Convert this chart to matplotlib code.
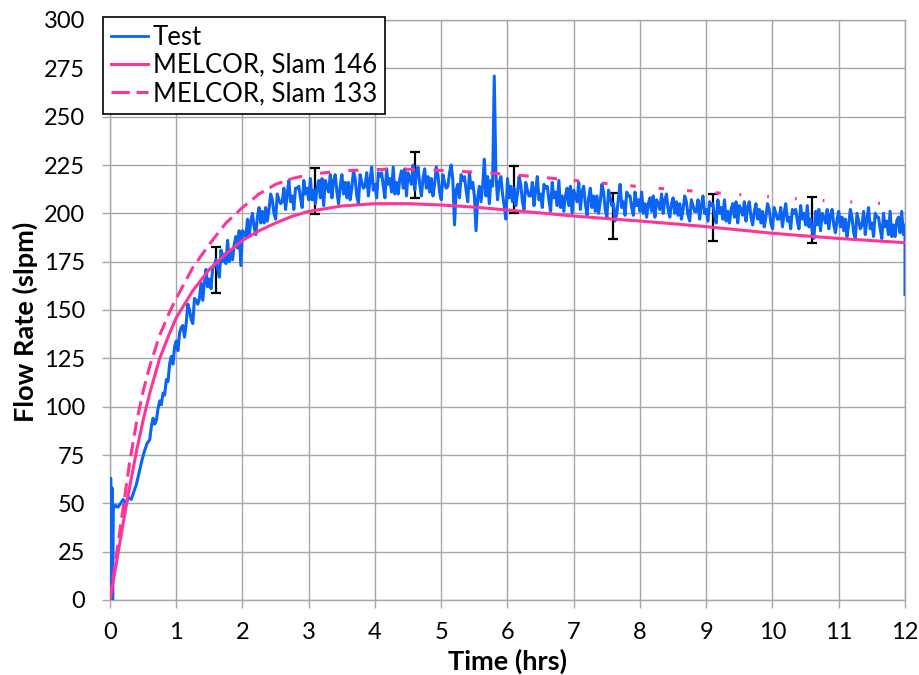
import numpy as np
import matplotlib
matplotlib.use("Agg")
import matplotlib.pyplot as plt
from matplotlib.lines import Line2D

# ---------------- data ----------------
# Test measurement: start-up transient (irregular sampling)
test_t_early = [0.00, 0.01, 0.02, 0.03, 0.04, 0.05, 0.08, 0.12, 0.16, 0.20,
                0.24, 0.28, 0.32, 0.36, 0.40, 0.44, 0.48, 0.52, 0.56]
test_flow_early = [0, 63, 5, 58, 0, 47, 49, 48, 50, 52,
                   50, 53, 52, 56, 60, 66, 72, 77, 81]

# Test measurement: 0.600 h to 12.000 h, every 0.025 h (one row = 0.25 h)
test_t0 = 0.600
test_dt = 0.025
test_flow = [
    83, 90, 94, 91, 93, 99, 103, 101, 107, 106,            # 0.600
    114, 113, 122, 126, 122, 131, 134, 129, 138, 141,      # 0.850
    142, 136, 143, 153, 150, 145, 143, 156, 155, 153,      # 1.100
    156, 164, 155, 164, 171, 162, 166, 161, 172, 173,      # 1.350
    176, 171, 167, 181, 175, 179, 174, 186, 175, 181,      # 1.600
    176, 184, 188, 182, 191, 173, 191, 190, 188, 197,      # 1.850
    188, 196, 200, 193, 189, 198, 203, 195, 201, 195,      # 2.100
    203, 196, 202, 210, 207, 200, 197, 210, 207, 205,      # 2.350
    206, 213, 202, 210, 217, 206, 209, 202, 213, 213,      # 2.600
    214, 208, 203, 217, 210, 213, 207, 218, 207, 212,      # 2.850
    205, 213, 217, 208, 218, 204, 217, 214, 211, 220,      # 3.100
    208, 217, 220, 211, 205, 214, 220, 210, 216, 208,      # 3.350
    216, 207, 213, 222, 218, 209, 205, 220, 216, 213,      # 3.600
    214, 221, 209, 217, 224, 212, 215, 208, 221, 219,      # 3.850
    221, 214, 208, 223, 215, 218, 211, 224, 210, 216,      # 4.100
    210, 218, 222, 213, 223, 209, 221, 218, 215, 225,      # 4.350
    212, 221, 224, 215, 209, 218, 223, 213, 219, 211,      # 4.600
    218, 209, 215, 224, 220, 211, 207, 220, 216, 213,      # 4.850
    214, 221, 225, 217, 194, 212, 215, 208, 220, 217,      # 5.100
    219, 212, 206, 221, 213, 216, 209, 191, 208, 214,      # 5.350
    206, 214, 228, 209, 219, 205, 217, 214, 271, 220,      # 5.600
    207, 216, 219, 210, 204, 197, 218, 208, 214, 206,      # 5.850
    213, 204, 210, 219, 215, 206, 202, 216, 212, 209,      # 6.100
    209, 216, 204, 212, 219, 207, 210, 203, 215, 213,      # 6.350
    214, 207, 201, 216, 208, 211, 204, 217, 203, 209,      # 6.600
    201, 209, 213, 204, 214, 200, 212, 209, 206, 216,      # 6.850
    202, 211, 214, 205, 199, 208, 213, 203, 209, 201,      # 7.100
    209, 200, 206, 215, 211, 202, 198, 212, 208, 204,      # 7.350
    205, 196, 200, 208, 215, 203, 206, 199, 211, 209,      # 7.600
    209, 203, 199, 211, 204, 207, 201, 211, 200, 205,      # 7.850
    198, 205, 208, 201, 209, 198, 207, 205, 202, 210,      # 8.100
    200, 207, 210, 202, 198, 205, 208, 200, 206, 199,      # 8.350
    205, 197, 202, 209, 206, 199, 196, 207, 204, 201,      # 8.600
    201, 207, 197, 204, 209, 200, 202, 196, 206, 204,      # 8.850
    205, 199, 195, 207, 200, 203, 197, 207, 196, 201,      # 9.100
    195, 202, 205, 198, 206, 195, 204, 202, 199, 206,      # 9.350
    196, 203, 206, 198, 194, 201, 205, 197, 202, 195,      # 9.600
    201, 193, 198, 205, 202, 195, 192, 203, 200, 197,      # 9.850
    197, 203, 193, 200, 205, 196, 198, 192, 202, 200,      # 10.100
    202, 196, 192, 204, 197, 200, 194, 204, 193, 197,      # 10.350
    191, 187, 201, 194, 202, 191, 200, 198, 195, 202,      # 10.600
    192, 199, 202, 194, 190, 197, 201, 193, 198, 191,      # 10.850
    197, 188, 194, 202, 198, 190, 187, 200, 196, 192,      # 11.100
    194, 201, 189, 197, 203, 192, 195, 188, 200, 198,      # 11.350
    198, 192, 187, 200, 193, 196, 189, 201, 188, 194,      # 11.600
    188, 196, 198, 190, 201, 189, 194,                     # 11.850
]
# final reading at shutdown
test_t_end = [12.00]
test_flow_end = [158]

# MELCOR, Slam 146
slam146_t = [0, 0.1, 0.2, 0.3, 0.4, 0.5, 0.6, 0.75, 0.9, 1.0, 1.25, 1.5, 1.75,
             2.0, 2.25, 2.5, 2.75, 3.0, 3.5, 4.0, 4.5, 5.0, 5.5, 6.0, 6.5, 7.0,
             7.5, 8.0, 8.5, 9.0, 9.5, 10.0, 10.5, 11.0, 11.5, 12.0]
slam146_flow = [0, 20, 40, 59, 77, 93, 107, 125, 138, 146, 160, 171, 179,
                186, 191, 195, 198.5, 201, 203.8, 205, 205, 204.3, 203.2, 201.7,
                200.2, 198.6, 197.3, 196, 194.6, 193.1, 191.4, 189.7, 188.3,
                187, 185.9, 184.8]

# MELCOR, Slam 133
slam133_t = [0, 0.1, 0.2, 0.3, 0.4, 0.5, 0.6, 0.75, 0.9, 1.0, 1.25, 1.5, 1.75,
             2.0, 2.25, 2.5, 2.75, 3.0, 3.5, 4.0, 4.5, 5.0, 5.5, 6.0, 6.5, 7.0,
             7.5, 8.0, 8.5, 9.0, 9.5, 10.0, 10.5, 11.0, 11.5, 12.0]
slam133_flow = [0, 24, 48, 72, 92, 108, 121, 137, 149, 156, 172, 184, 195,
                203, 210, 215, 218, 220, 222, 222.7, 222.8, 222.2, 221.3, 220.2,
                218.7, 217, 215.4, 213.8, 212.3, 211, 209.7, 208.5, 207.2,
                206.2, 205.4, 204.5]

# Measurement uncertainty bars
err_t = [1.6, 3.1, 4.6, 6.1, 7.6, 9.1, 10.6]
err_flow = [170.7, 211.6, 219.9, 212.4, 198.6, 197.9, 196.6]
err_half = [12, 12, 12, 12, 12, 12, 12]

x_ticks = list(range(0, 13))
y_ticks = list(range(0, 301, 25))

# ---------------- style ----------------
BLUE = "#0A64F5"
PINK = "#FF3399"
GRID = "#A6A6A6"
FONT = ["Lato", "DejaVu Sans"]
plt.rcParams["font.family"] = FONT

fig = plt.figure(figsize=(9.2, 6.75), dpi=100)
ax = fig.add_axes([110 / 920, 1 - 600 / 675, 795 / 920, 580 / 675])

t_main = np.round(test_t0 + test_dt * np.arange(len(test_flow)), 3)
test_t_all = np.concatenate([test_t_early, t_main, test_t_end])
test_flow_all = np.concatenate([test_flow_early, test_flow, test_flow_end])

ax.errorbar(err_t, err_flow, yerr=err_half, fmt="none", ecolor="black",
            elinewidth=1.6, capsize=3.5, capthick=1.6, zorder=3)

ax.plot(test_t_all, test_flow_all, color=BLUE, lw=2.2, zorder=4)

ax.plot(slam146_t, slam146_flow, color=PINK, lw=2.2, zorder=5)

# dashed curve: dash pattern tightens into dots along the run
s133_t = np.asarray(slam133_t)
s133_f = np.asarray(slam133_flow)
dash_pieces = [
    (0.0, 2.75, (4.6, 2.2)),
    (2.75, 7.0, (3.3, 6.0)),
    (7.0, 9.5, (1.8, 7.5)),
    (9.5, 12.0, (0.6, 8.5)),
]
for lo, hi, pattern in dash_pieces:
    m = (s133_t >= lo) & (s133_t <= hi)
    ax.plot(s133_t[m], s133_f[m], color=PINK, lw=2.2, zorder=5,
            dashes=pattern, dash_capstyle="butt")

ax.set_xlim(0, 12)
ax.set_ylim(0, 300)
ax.set_xticks(x_ticks)
ax.set_yticks(y_ticks)
ax.grid(True, color=GRID, lw=1.0)
ax.set_axisbelow(True)
for sp in ax.spines.values():
    sp.set_color(GRID)
    sp.set_linewidth(1.0)
ax.tick_params(axis="both", direction="out", length=6, width=1.0,
               color=GRID, labelsize=17, labelcolor="black")
ax.tick_params(axis="y", pad=12)
ax.tick_params(axis="x", pad=10)

ax.set_xlabel("Time (hrs)", fontsize=19.5, fontweight="bold")
ax.set_ylabel("Flow Rate (slpm)", fontsize=19.5, fontweight="bold")
ax.xaxis.label.set_va("center")
ax.yaxis.label.set_va("center")
ax.xaxis.set_label_coords(0.5, (600 - 661) / 580)
ax.yaxis.set_label_coords((25 - 110) / 795, 0.48)

handles = [
    Line2D([], [], color=BLUE, lw=2.0),
    Line2D([], [], color=PINK, lw=2.2),
    Line2D([], [], color=PINK, lw=2.2, dashes=(6, 2.2), dash_capstyle="butt"),
]
labels = ["Test", "MELCOR, Slam 146", "MELCOR, Slam 133"]
leg = fig.legend(handles, labels, loc="upper left",
                 bbox_to_anchor=(103 / 920, 1 - 17 / 675),
                 bbox_transform=fig.transFigure, fontsize=18.5,
                 frameon=True, fancybox=False, edgecolor="black",
                 framealpha=1.0, borderaxespad=0, borderpad=0.3,
                 handlelength=1.45, handletextpad=0.2, labelspacing=0.12)
leg.get_frame().set_linewidth(1.2)
leg.set_zorder(10)

fig.savefig("out.png", dpi=100)
